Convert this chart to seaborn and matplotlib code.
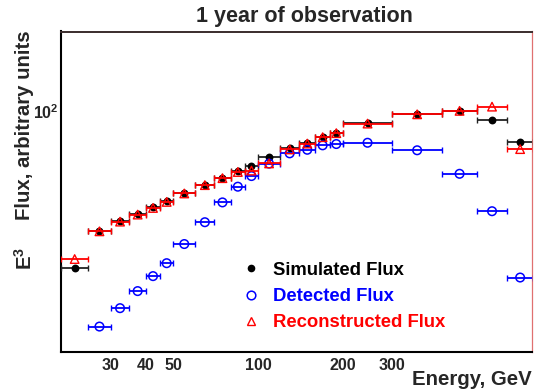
import numpy as np
import pandas as pd
import matplotlib
matplotlib.use("Agg")
import matplotlib.pyplot as plt
import seaborn as sns
from matplotlib.ticker import FixedLocator, FuncFormatter, NullFormatter
from matplotlib.lines import Line2D

# ---------------- data ----------------
bin_low = [20, 25, 30, 35, 40, 45, 50, 60, 70, 80, 90, 100, 120, 140, 160, 180, 200, 300, 450, 600, 765]
bin_high = [25, 30, 35, 40, 45, 50, 60, 70, 80, 90, 100, 120, 140, 160, 180, 200, 300, 450, 600, 765, 950]
simulated = [27.8, 37.8, 40.9, 43.3, 45.7, 48.0, 51.4, 55.0, 58.3, 61.3, 64.3, 68.7, 73.9, 77.2, 81.3, 84.0,
             90.7, 97.9, 100.6, 93.5, 78.1]
detected = [np.nan, 17.3, 20.1, 23.1, 26.1, 29.0, 33.9, 40.5, 47.6, 54.1, 59.0, 65.3, 71.0, 73.1, 75.8, 76.6,
            77.4, 72.8, 60.1, 44.3, 25.8]
reconstructed = [30.0, 37.6, 40.7, 43.1, 45.5, 47.8, 51.2, 54.8, 58.0, 61.0, 61.7, 65.4, 73.3, 76.9, 81.0, 83.7,
                 90.5, 97.6, 100.4, 103.9, 73.5]

series_names = ["Simulated Flux", "Detected Flux", "Reconstructed Flux"]
series_colors = ["black", "blue", "red"]
bar_colors = ["#222222", "blue", "red"]

x_tick_values = [30, 40, 50, 100, 200, 300]
x_tick_labels = ["30", "40", "50", "100", "200", "300"]
y_tick_values = [100]
y_tick_labels = [r"$\mathbf{10^{2}}$"]

title = "1 year of observation"
x_title = "Energy, GeV"
y_title = "Flux, arbitrary units"

# ---------------- style ----------------
sns.set_style("white")
plt.rcParams["font.family"] = ["Liberation Sans", "DejaVu Sans"]
plt.rcParams["font.weight"] = "bold"
plt.rcParams["mathtext.fontset"] = "custom"
plt.rcParams["mathtext.rm"] = "Liberation Sans:bold"
plt.rcParams["mathtext.bf"] = "Liberation Sans:bold"
plt.rcParams["mathtext.it"] = "Liberation Sans:bold:italic"

W, H = 535, 391
fig = plt.figure(figsize=(W / 100, H / 100), dpi=100)
L, R, T, B = 61, 531.7, 31.5, 352
ax = fig.add_axes([L / W, 1 - B / H, (R - L) / W, (B - T) / H])

lo = np.array(bin_low, float)
hi = np.array(bin_high, float)
center = np.sqrt(lo * hi)

df = pd.DataFrame({
    "E": np.tile(center, 3),
    "lo": np.tile(lo, 3),
    "hi": np.tile(hi, 3),
    "flux": np.concatenate([simulated, detected, reconstructed]),
    "series": np.repeat(series_names, len(center)),
})

for i, name in enumerate(series_names):
    d = df[df["series"] == name].dropna()
    z = 3 + i
    ax.errorbar(d["E"], d["flux"], xerr=[d["E"] - d["lo"], d["hi"] - d["E"]], fmt="none",
                ecolor=bar_colors[i], elinewidth=1.3, capsize=2.2, capthick=1.0, zorder=z)
    if i == 0:
        sns.scatterplot(x=d["E"], y=d["flux"], ax=ax, marker="o", color="black", s=32,
                        linewidth=0, zorder=z + 0.5, legend=False)
    elif i == 1:
        sns.scatterplot(x=d["E"], y=d["flux"], ax=ax, marker="o", facecolors="none",
                        edgecolor="blue", s=38, linewidth=1.1, zorder=z + 0.5, legend=False)
    else:
        sns.scatterplot(x=d["E"], y=d["flux"], ax=ax, marker="^", facecolors="none",
                        edgecolor="red", s=38, linewidth=1.0, zorder=z + 0.5, legend=False)

ax.set_xscale("log")
ax.set_yscale("log")
ax.set_xlim(20, 937)
ax.set_ylim(14.06, 191.7)
ax.set_xlabel("")
ax.set_ylabel("")

# x ticks
ax.xaxis.set_major_locator(FixedLocator([100]))
ax.xaxis.set_minor_locator(FixedLocator([30, 40, 50, 60, 70, 80, 90, 200, 300, 400, 500, 600, 700, 800, 900]))
lab = dict(zip(x_tick_values, x_tick_labels))
fmt = FuncFormatter(lambda v, p: lab.get(int(round(v)), ""))
ax.xaxis.set_major_formatter(fmt)
ax.xaxis.set_minor_formatter(fmt)
# y ticks
ax.yaxis.set_major_locator(FixedLocator(y_tick_values))
ax.yaxis.set_major_formatter(FuncFormatter(lambda v, p: y_tick_labels[0] if abs(v - 100) < 1e-6 else ""))
ax.yaxis.set_minor_locator(FixedLocator([20, 30, 40, 50, 60, 70, 80, 90]))
ax.yaxis.set_minor_formatter(NullFormatter())

ax.tick_params(axis="x", which="major", direction="in", length=7.5, width=1.0, pad=4,
               labelsize=11.5, color="black")
ax.tick_params(axis="x", which="minor", direction="in", length=3.2, width=1.0, pad=4,
               labelsize=11.5, color="black")
ax.tick_params(axis="y", which="major", direction="in", length=10, width=1.0, pad=1.5,
               labelsize=11.5, color="#333333")
ax.tick_params(axis="y", which="minor", direction="in", length=5, width=1.0, color="#333333")
for lbl in ax.get_xticklabels(which="both"):
    lbl.set_fontweight("bold")

for s in ["left", "bottom"]:
    ax.spines[s].set_color("black")
    ax.spines[s].set_linewidth(1.5)
ax.spines["top"].set_color("#3a2c2c")
ax.spines["top"].set_linewidth(1.4)
ax.spines["right"].set_color("#e07070")
ax.spines["right"].set_linewidth(0.9)

# titles
fig.text(304 / W, 1 - 22 / H, title, ha="center", va="baseline", fontsize=15.5, fontweight="bold")
fig.text(R / W, 1 - 385 / H, x_title, ha="right", va="baseline", fontsize=14.7, fontweight="bold")
fig.text(25 / W, 1 - 30 / H, y_title, rotation=90, ha="center", va="top", fontsize=14.7, fontweight="bold")
fig.text(25 / W, 1 - 270 / H, r"E$^{3}$", rotation=90, ha="center", va="bottom", fontsize=14.7,
         fontweight="bold")

# legend
handles = [
    Line2D([], [], marker="o", linestyle="none", color="black", markersize=5.5, markeredgewidth=0),
    Line2D([], [], marker="o", linestyle="none", markerfacecolor="none", markeredgecolor="blue",
           markersize=6.2, markeredgewidth=1.1),
    Line2D([], [], marker="^", linestyle="none", markerfacecolor="none", markeredgecolor="red",
           markersize=6.2, markeredgewidth=1.0),
]
leg = ax.legend(handles, series_names, frameon=False, loc="center left",
                bbox_to_anchor=(242 / W, 1 - 296.5 / H), bbox_transform=fig.transFigure,
                borderaxespad=0, borderpad=0, handlelength=1.0, handletextpad=0.67,
                labelspacing=0.5, labelcolor=series_colors,
                prop={"family": "Liberation Sans", "weight": "bold", "size": 13.3})

fig.savefig("out.png", dpi=100)
